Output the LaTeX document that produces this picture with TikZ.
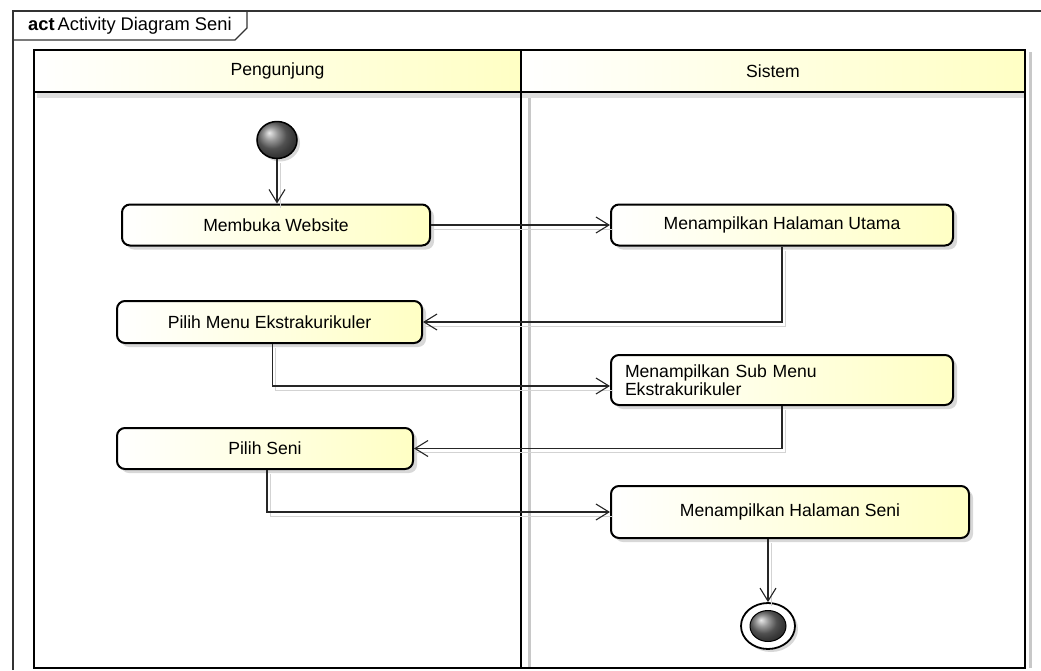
\documentclass[tikz,border=0pt]{standalone}
\usepackage{fontspec}
\setmainfont{Liberation Sans}
\usetikzlibrary{arrows.meta,positioning,shadows,shapes.geometric}
\definecolor{umlyellow}{RGB}{255,255,196}
\definecolor{umlgray}{RGB}{200,200,200}

\begin{document}
\begin{tikzpicture}[
x=1pt, y=-1pt,
every node/.style={font=\fontsize{17.6}{18}\selectfont},
action/.style={
    draw,
    line width=2pt,
    rounded corners=8pt,
    left color=white,
    right color=umlyellow,
    drop shadow={shadow xshift=4pt, shadow yshift=-4pt, fill=umlgray, opacity=0.7},
    minimum height=41pt,
    inner sep=0pt
    },
lanehead/.style={draw, line width=2.2pt, left color=white, right color=umlyellow, minimum height=42pt, inner sep=0pt},
lanebody/.style={draw, line width=2.2pt, minimum height=576pt, inner sep=0pt},
flow/.style={
    draw=black!85,
    line width=1.1pt,
    -{Straight Barb[length=13pt,width=16pt,line width=1.1pt]},
    preaction={draw=umlgray!80, line width=1pt, -, transform canvas={shift={(3pt,-4pt)}}}
    }
]

\useasboundingbox (0,0) rectangle (1041,670);

% frame and title tab
\draw[black!80, line width=1.2pt] (13,670) -- (13,11) -- (1041,11);
\draw[black!80, line width=1.2pt] (13,40) -- (235,40) -- (247,28) -- (247,11);
\node[anchor=west, inner sep=0pt, font=\fontsize{18.3}{20}\selectfont] (titlelabel) at (28,26) {\textbf{act}\,Activity Diagram Seni};

% lanes
\draw[umlgray, line width=3pt] (529,94) -- (529,668);
\draw[umlgray, line width=3pt] (1030,52) -- (1030,668);
\fill[umlgray!60] (37,93) rectangle (1024,98);
\node[lanehead, minimum width=487pt] (penghead) at (277.5,71) {Pengunjung};
\node[lanehead, minimum width=504pt] (sishead) at (773,71) {Sistem};
\node[lanebody, minimum width=487pt] (pengbox) at (277.5,380) {};
\node[lanebody, minimum width=504pt] (sisbox) at (773,380) {};

% actions
\node[ellipse, draw, line width=1.5pt, ball color=black!55, minimum width=40pt, minimum height=37pt,
      drop shadow={shadow xshift=3pt, shadow yshift=-3pt, fill=umlgray, opacity=0.7}] (startnode) at (277,140) {};
\node[action, minimum width=308pt] (bukaweb) at (276,225) {Membuka Website};
\node[action, minimum width=342pt] (halutama) at (782,225) {Menampilkan Halaman Utama};
\node[action, minimum width=305pt, minimum height=42pt] (pilmenu) at (269.5,322) {Pilih Menu Ekstrakurikuler};
\node[action, minimum width=342pt, minimum height=50pt, text width=314pt, align=left] (submenu) at (782,380) {Menampilkan Sub Menu\\Ekstrakurikuler};
\node[action, minimum width=296pt] (pilseni) at (265,448.5) {Pilih Seni};
\node[action, minimum width=358pt, minimum height=52pt] (halseni) at (790,512) {Menampilkan Halaman Seni};
\node[ellipse, draw, line width=1.8pt, fill=white, minimum width=54pt, minimum height=46pt,
      drop shadow={shadow xshift=3pt, shadow yshift=-3pt, fill=umlgray, opacity=0.7}] (endnode) at (768,626) {};
\node[ellipse, draw, line width=1pt, ball color=black!55, minimum width=36pt, minimum height=31pt] (endball) at (endnode.center) {};

% flows
\draw[flow] (startnode) -- (startnode |- bukaweb.north);
\draw[flow] (bukaweb) -- (halutama);
\draw[flow] (halutama.south) |- (pilmenu.east);
\draw[flow] ([xshift=3pt]pilmenu.south) |- ([yshift=-6pt]submenu.west);
\draw[flow] (submenu.south) |- (pilseni.east);
\draw[flow] ([xshift=2pt]pilseni.south) |- (halseni.west);
\draw[flow] (halseni.south -| endnode.north) -- (endnode.north);

\end{tikzpicture}
\end{document}
